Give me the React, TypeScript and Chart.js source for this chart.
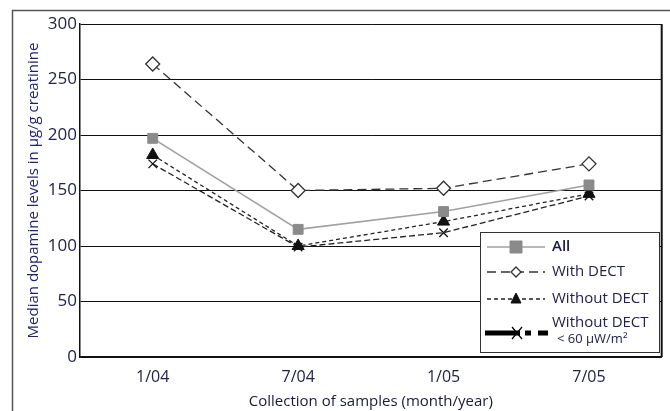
import React, { useEffect, useRef } from "react";
import { Chart, registerables } from "chart.js";

Chart.register(...registerables);

const categories = ["1/04", "7/04", "1/05", "7/05"];
const allValues = [197, 115, 131, 155];
const withDect = [264, 150, 152, 174];
const withoutDect = [182, 100, 122, 147];
const withoutDectLow = [174, 99, 112, 145];
const yTicks = [0, 50, 100, 150, 200, 250, 300];

const FONT = "'Open Sans', 'DejaVu Sans', sans-serif";
const TXT = "#22224a";

const frameAndLegend = {
  id: "frameAndLegend",
  afterDraw(chart: any) {
    const ctx = chart.ctx;
    const a = chart.chartArea;
    ctx.save();
    // outer frame (top and left)
    ctx.strokeStyle = "#555";
    ctx.lineWidth = 1.5;
    ctx.beginPath();
    ctx.moveTo(12.5, 411);
    ctx.lineTo(12.5, 10.5);
    ctx.lineTo(670, 10.5);
    ctx.stroke();
    // thick right border of plot
    ctx.strokeStyle = "#111";
    ctx.lineWidth = 2;
    ctx.beginPath();
    ctx.moveTo(a.right, a.top);
    ctx.lineTo(a.right, a.bottom);
    ctx.stroke();

    // legend box
    const bx = 480, by = 232, bw = 179, bh = 120;
    ctx.fillStyle = "#fff";
    ctx.fillRect(bx, by, bw, bh);
    ctx.strokeStyle = "#333";
    ctx.lineWidth = 1;
    ctx.strokeRect(bx + 0.5, by + 0.5, bw, bh);

    const ds = chart.data.datasets;
    const x0 = 487, x1 = 545, mx = 516, tx = 552;
    const rows = [247, 272, 299];
    ctx.textBaseline = "middle";
    ctx.textAlign = "left";
    for (let i = 0; i < 3; i++) {
      const d = ds[i];
      const y = rows[i];
      ctx.strokeStyle = d.borderColor;
      ctx.lineWidth = d.borderWidth;
      ctx.setLineDash(d.borderDash || []);
      ctx.beginPath();
      ctx.moveTo(x0, y);
      ctx.lineTo(x1, y);
      ctx.stroke();
      ctx.setLineDash([]);
      ctx.fillStyle = d.pointBackgroundColor;
      ctx.strokeStyle = d.pointBorderColor;
      ctx.lineWidth = d.pointBorderWidth;
      ctx.beginPath();
      const r = i === 0 ? 6 : 5;
      if (d.pointStyle === "rect") {
        ctx.rect(mx - r, y - r, 2 * r, 2 * r);
      } else if (d.pointStyle === "rectRot") {
        ctx.moveTo(mx, y - r);
        ctx.lineTo(mx + r, y);
        ctx.lineTo(mx, y + r);
        ctx.lineTo(mx - r, y);
        ctx.closePath();
      } else {
        ctx.moveTo(mx, y - r - 1);
        ctx.lineTo(mx + r, y + r - 1);
        ctx.lineTo(mx - r, y + r - 1);
        ctx.closePath();
      }
      ctx.fill();
      ctx.stroke();
      ctx.fillStyle = i === 0 ? "#1a1a3a" : TXT;
      ctx.font = i === 0 ? `600 15px ${FONT}` : `15px ${FONT}`;
      ctx.fillText(i === 0 ? "All" : d.label, tx, y);
    }
    // fourth row
    const y4 = 333;
    ctx.strokeStyle = "#000";
    ctx.lineWidth = 5;
    ctx.beginPath();
    ctx.moveTo(485, y4);
    ctx.lineTo(520, y4);
    ctx.moveTo(525, y4);
    ctx.lineTo(531, y4);
    ctx.moveTo(538, y4);
    ctx.lineTo(548, y4);
    ctx.stroke();
    ctx.lineWidth = 1.2;
    ctx.beginPath();
    ctx.moveTo(512, y4 - 6);
    ctx.lineTo(522, y4 + 6);
    ctx.moveTo(522, y4 - 6);
    ctx.lineTo(512, y4 + 6);
    ctx.stroke();
    ctx.fillStyle = TXT;
    ctx.font = `15px ${FONT}`;
    ctx.fillText("Without DECT", tx, 323);
    ctx.font = `13px ${FONT}`;
    ctx.fillText("< 60 µW/m²", 557, 339);
    ctx.restore();
  },
};

export default function App() {
  const ref = useRef<HTMLCanvasElement>(null);
  useEffect(() => {
    if (!ref.current) return;
    const chart = new Chart(ref.current, {
      type: "line",
      data: {
        labels: categories,
        datasets: [
          {
            label: "All",
            data: allValues,
            borderColor: "#a0a0a0",
            borderWidth: 1.5,
            pointStyle: "rect",
            pointRadius: 7,
            pointBackgroundColor: "#8a8a8a",
            pointBorderColor: "#8a8a8a",
            pointBorderWidth: 1,
          },
          {
            label: "With DECT",
            data: withDect,
            borderColor: "#333",
            borderWidth: 1.3,
            borderDash: [9, 5],
            pointStyle: "rectRot",
            pointRadius: 7,
            pointBackgroundColor: "#fff",
            pointBorderColor: "#333",
            pointBorderWidth: 1.3,
          },
          {
            label: "Without DECT",
            data: withoutDect,
            borderColor: "#222",
            borderWidth: 1.3,
            borderDash: [4, 3],
            pointStyle: "triangle",
            pointRadius: 7,
            pointBackgroundColor: "#111",
            pointBorderColor: "#111",
            pointBorderWidth: 1,
          },
          {
            label: "Without DECT < 60 µW/m²",
            data: withoutDectLow,
            borderColor: "#222",
            borderWidth: 1.3,
            borderDash: [6, 3],
            pointStyle: "crossRot",
            pointRadius: 6,
            pointBackgroundColor: "#111",
            pointBorderColor: "#111",
            pointBorderWidth: 1.3,
          },
        ] as any,
      },
      options: {
        animation: false,
        responsive: false,
        maintainAspectRatio: false,
        layout: { padding: { left: 25, top: 24, right: 5, bottom: 0 } },
        plugins: { legend: { display: false }, tooltip: { enabled: false } },
        scales: {
          x: {
            offset: true,
            grid: { display: false, drawTicks: false },
            border: { display: true, color: "#111", width: 1.5 },
            ticks: { color: TXT, font: { family: FONT, size: 16 }, padding: 11 },
            title: {
              display: true,
              text: "Collection of samples (month/year)",
              color: "#1a1a3a",
              font: { family: FONT, size: 15 },
              padding: { top: 3, bottom: 0 },
            },
            afterFit(s: any) {
              s.height = 54;
            },
          },
          y: {
            min: 0,
            max: 300,
            afterBuildTicks(s: any) {
              s.ticks = yTicks.map((v) => ({ value: v }));
            },
            grid: { color: "#111", lineWidth: 1, drawTicks: false },
            border: { display: true, color: "#111", width: 1.5 },
            ticks: { color: TXT, font: { family: FONT, size: 17 }, padding: 3 },
            title: {
              display: true,
              text: "Median dopamine levels in µg/g creatinine",
              color: "#22226a",
              font: { family: FONT, size: 15 },
              padding: { top: 0, bottom: 2 },
            },
            afterFit(s: any) {
              s.width = 55;
            },
          },
        },
      },
      plugins: [frameAndLegend],
    });
    return () => chart.destroy();
  }, []);
  return (
    <div style={{ position: "fixed", left: 0, top: 0, width: 670, height: 411, background: "#fff" }}>
      <canvas ref={ref} width={670} height={411} style={{ width: 670, height: 411 }} />
    </div>
  );
}
